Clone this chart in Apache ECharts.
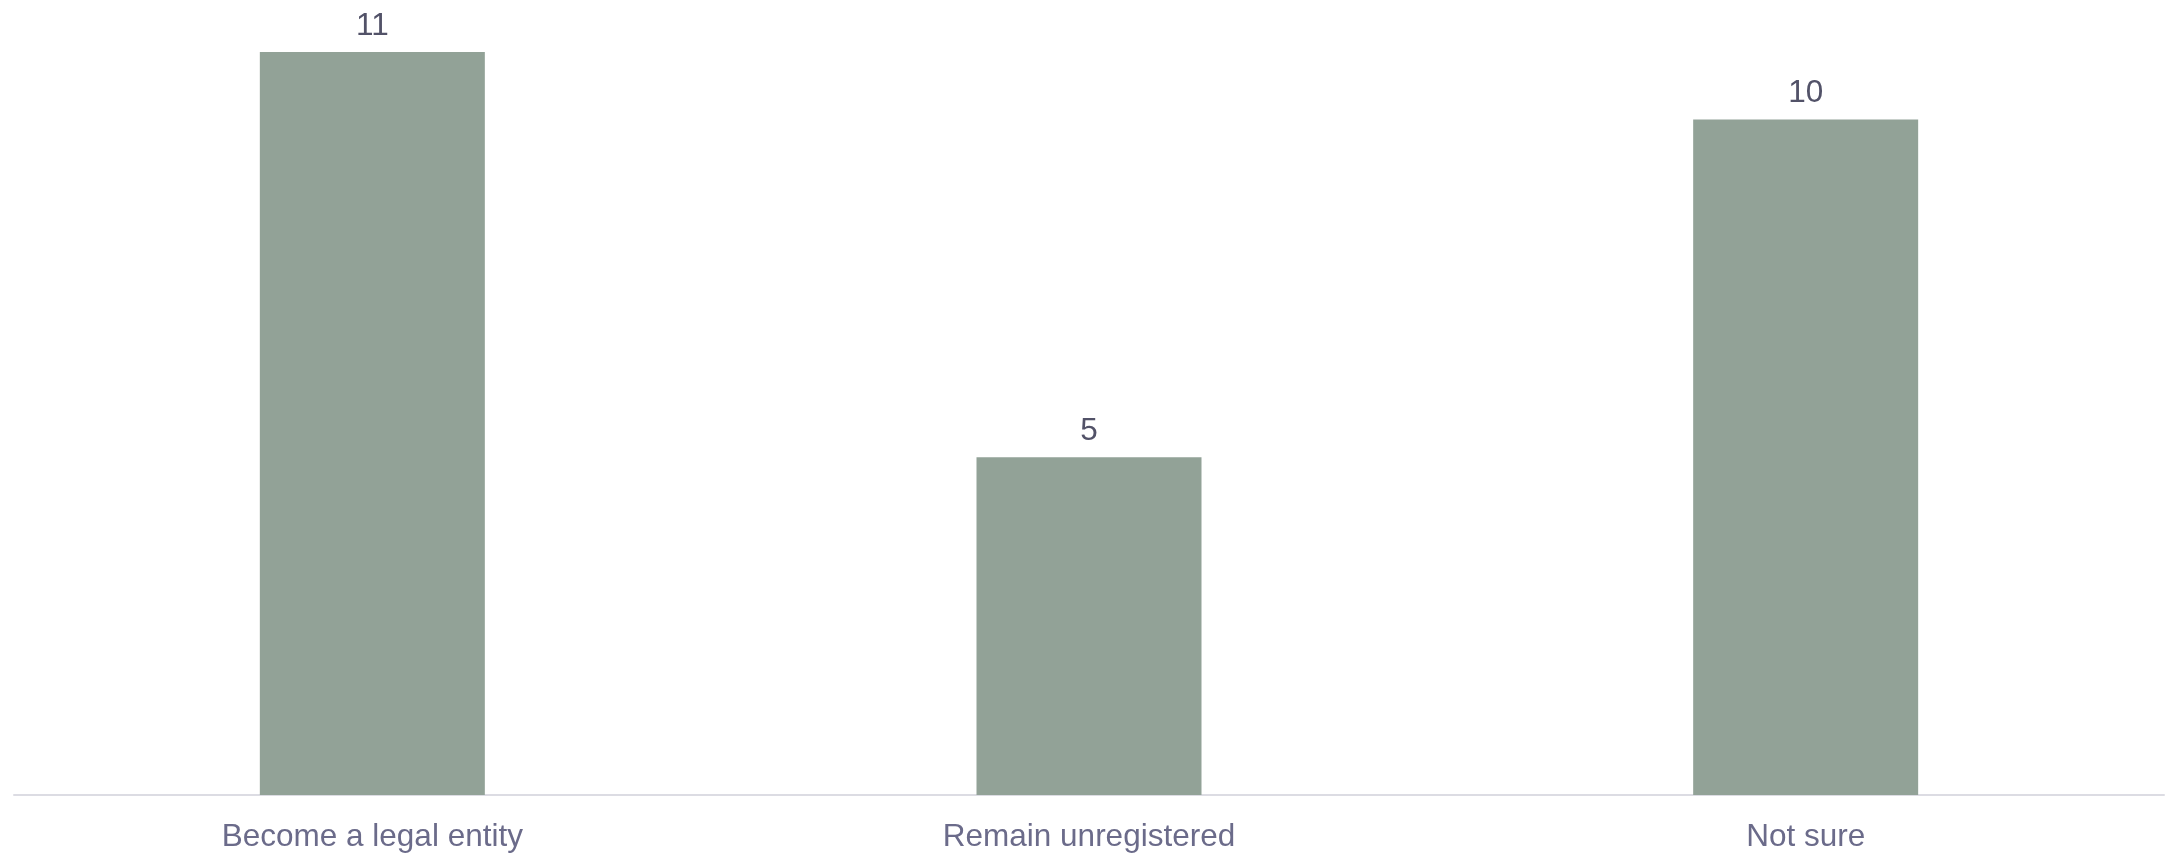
<!DOCTYPE html>
<html>
<head>
<meta charset="utf-8">
<script src="https://cdn.jsdelivr.net/npm/echarts@6/dist/echarts.min.js"></script>
<style>
html,body{margin:0;padding:0;background:#fff;}
#c{width:2165px;height:853px;}
</style>
</head>
<body>
<div id="c"></div>
<script>
const categories = ["Become a legal entity", "Remain unregistered", "Not sure"];
const values = [11, 5, 10];

const chart = echarts.init(document.getElementById('c'), null, {renderer: 'canvas'});
chart.setOption({
  animation: false,
  backgroundColor: '#ffffff',
  grid: {left: 14, right: 1, top: 52, bottom: 57, containLabel: false},
  xAxis: {
    type: 'category',
    data: categories,
    axisLine: {show: true, lineStyle: {color: '#dcdce3', width: 2}},
    axisTick: {show: false},
    axisLabel: {
      color: '#6b6b8a',
      fontFamily: 'Liberation Sans, Arial, sans-serif',
      fontSize: 31.5,
      margin: 26
    }
  },
  yAxis: {
    type: 'value',
    min: 0,
    max: 11,
    show: false,
    splitLine: {show: false}
  },
  series: [{
    type: 'bar',
    data: values,
    barWidth: 225,
    itemStyle: {color: '#92a297'},
    label: {
      show: true,
      position: 'top',
      distance: 10,
      color: '#525268',
      fontFamily: 'Liberation Sans, Arial, sans-serif',
      fontSize: 31.5
    }
  }]
});
</script>
</body>
</html>
